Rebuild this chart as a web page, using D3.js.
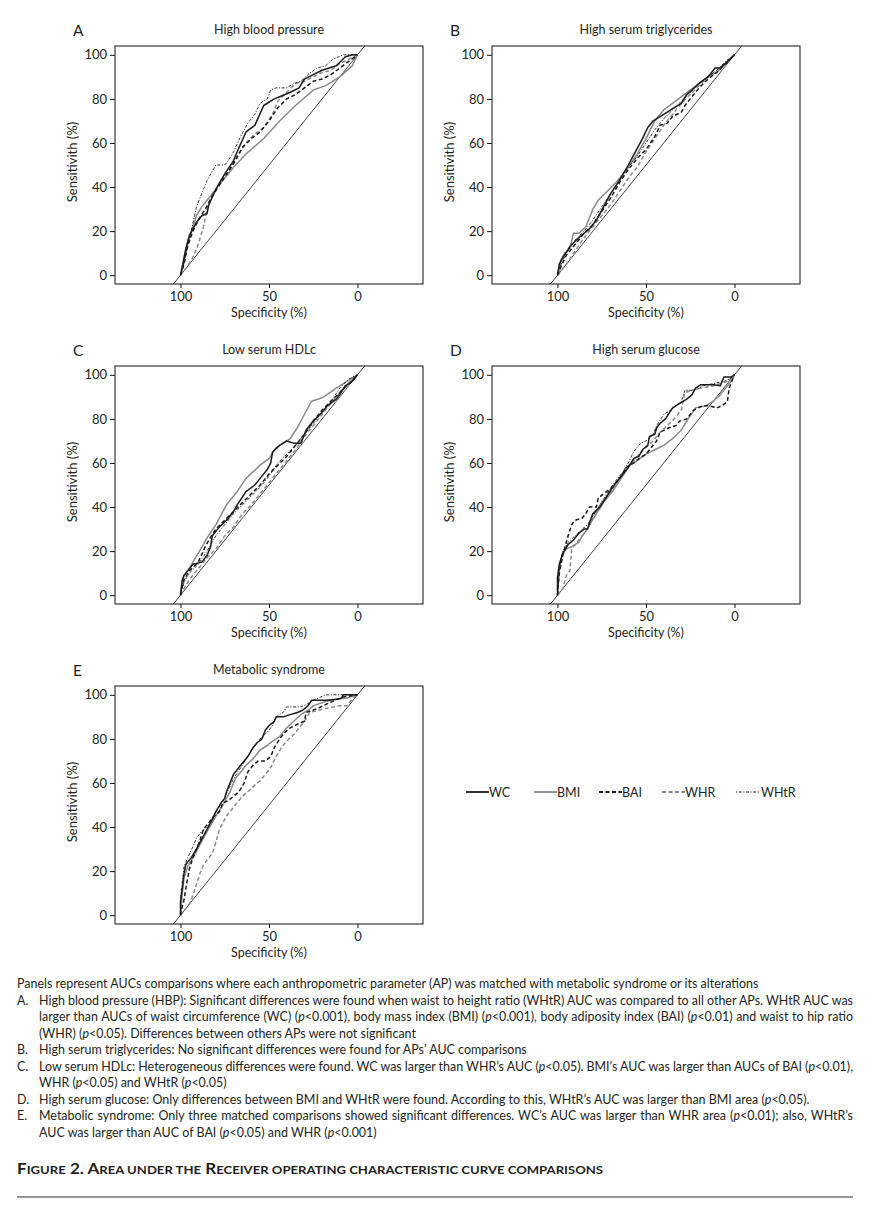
<!DOCTYPE html>
<html>
<head>
<meta charset="utf-8">
<script src="https://cdnjs.cloudflare.com/ajax/libs/d3/7.8.5/d3.min.js"></script>
<style>
    body { margin: 0; background: #fff; }
    svg { display: block; font-family: Lato, "Open Sans", sans-serif; }
</style>
</head>
<body>
<div id="figure"></div>
<script>
// [specificity %, sensitivity %]
const wcA = [[100,0],[99,4],[97,12],[95,18],[93,21],[91,24],[88,27],[85,28],[84,32],[80,39],[75,46],[70,52],[68,56],[63,65],[58,68],[53,77],[47,80],[44,81],[38,83],[33,85],[30,89],[25,91],[20,93],[12,95],[7,99],[3,100],[0,100]];
const bmiA = [[100,0],[98,6],[96,14],[93,22],[91,27],[88,31],[85,34],[78,41],[70,49],[63,55],[53,62],[44,70],[35,77],[25,84],[18,86],[10,90],[3,95],[0,100]];
const baiA = [[100,0],[98,5],[96,13],[93,20],[90,25],[86,30],[82,36],[78,41],[73,47],[69,52],[65,58],[60,62],[55,65],[50,70],[45,76],[40,80],[35,82],[30,85],[25,88],[20,89],[15,91],[10,94],[5,97],[0,100]];
const whrA = [[100,0],[97,3],[93,8],[90,14],[87,22],[85,30],[82,36],[78,41],[72,48],[68,54],[63,60],[58,64],[53,67],[48,73],[45,79],[40,83],[35,87],[30,88],[25,90],[20,92],[15,93],[10,96],[5,98],[0,100]];
const whtrA = [[100,0],[98,6],[96,14],[94,20],[92,27],[91,31],[88,37],[85,43],[80,50],[75,50],[73,52],[70,56],[66,63],[62,69],[58,73],[55,78],[51,80],[49,84],[46,85],[40,85],[36,87],[32,88],[28,91],[23,94],[18,95],[14,98],[8,100],[0,100]];

const wcB = [[100,0],[99,5],[97,8],[93,13],[88,17],[82,21],[78,25],[74,31],[70,37],[65,43],[60,50],[56,56],[52,62],[49,67],[46,70],[42,72],[38,74],[34,76],[30,78],[27,82],[24,84],[20,87],[15,90],[11,94],[8,94],[4,97],[0,100]];
const bmiB = [[100,0],[98,7],[96,10],[93,12],[91,19],[88,19],[84,22],[80,30],[77,34],[72,38],[67,42],[60,49],[55,55],[50,62],[45,70],[40,75],[35,78],[30,81],[25,84],[20,87],[15,90],[10,92],[5,96],[0,100]];
const baiB = [[100,0],[98,4],[95,9],[90,14],[85,19],[80,23],[75,29],[70,35],[65,42],[60,48],[55,53],[50,57],[45,63],[42,68],[38,69],[35,72],[30,74],[28,77],[25,80],[20,85],[15,89],[10,92],[5,96],[0,100]];
const whrB = [[100,0],[98,2],[95,5],[90,11],[85,17],[80,22],[75,27],[70,32],[65,38],[60,44],[55,49],[50,56],[45,62],[40,68],[35,73],[30,78],[25,82],[20,86],[15,90],[10,93],[5,96],[0,100]];
const whtrB = [[100,0],[98,5],[95,10],[90,16],[85,20],[80,25],[75,31],[70,37],[65,43],[60,49],[55,54],[50,60],[45,66],[40,71],[35,75],[30,79],[25,83],[20,87],[15,90],[10,93],[5,97],[0,100]];

const wcC = [[100,0],[99,7],[98,9],[95,12],[93,14],[88,15],[85,18],[83,22],[82,27],[78,31],[74,34],[70,38],[68,41],[63,47],[58,50],[55,53],[51,57],[49,60],[48,65],[44,68],[40,70],[36,69],[32,69],[29,75],[25,79],[20,83],[17,86],[12,89],[10,91],[7,95],[3,97],[0,100]];
const bmiC = [[100,0],[99,6],[98,9],[95,12],[93,15],[90,19],[85,26],[80,32],[74,41],[68,47],[63,53],[55,59],[50,62],[46,67],[42,69],[38,71],[34,76],[30,82],[26,88],[22,89],[19,90],[12,94],[6,97],[0,100]];
const baiC = [[100,0],[98,7],[95,11],[90,15],[86,22],[84,25],[80,30],[75,34],[70,38],[65,42],[60,46],[55,50],[50,55],[45,59],[40,63],[35,68],[30,73],[25,79],[20,84],[15,88],[10,92],[5,96],[0,100]];
const whrC = [[100,0],[98,3],[95,7],[90,12],[85,17],[80,21],[75,27],[70,31],[65,37],[60,41],[55,46],[50,51],[45,56],[40,61],[35,66],[30,72],[25,77],[20,82],[15,87],[10,92],[5,96],[0,100]];
const whtrC = [[100,0],[98,6],[95,10],[90,14],[85,20],[80,27],[75,32],[70,37],[65,41],[60,45],[55,49],[50,54],[45,60],[40,64],[35,68],[30,73],[25,78],[20,83],[15,88],[10,94],[5,98],[0,100]];

const wcD = [[100,0],[100,8],[99,14],[97,19],[94,23],[91,25],[88,28],[85,30],[83,30],[81,35],[80,37],[76,40],[72,45],[68,50],[63,55],[60,58],[57,62],[54,63],[52,66],[49,68],[48,72],[45,73],[44,76],[42,78],[39,80],[35,85],[31,87],[27,89],[24,91],[22,94],[19,95.5],[12,95.5],[8,95],[6,99],[2,99],[0,100]];
const bmiD = [[100,0],[99,12],[97,19],[95,21],[92,22],[88,24],[86,27],[84,29],[81,33],[78,37],[74,42],[69,47],[64,53],[59,59],[55,61],[50,64],[45,66],[40,68],[35,71],[30,75],[27,79],[22,85],[16,86],[12,88],[8,91],[5,94],[2,97],[0,100]];
const baiD = [[100,0],[99,10],[97,18],[96,21],[94,27],[92,32],[90,34],[86,35],[84,37],[82,40],[78,40],[77,44],[74,46],[69,49],[65,53],[61,58],[57,60],[54,62],[50,64],[46,68],[44,70],[42,74],[37,76],[33,77],[31,79],[27,80],[23,84],[18,86],[15,86],[10,85],[7,86],[4,88],[3,94],[0,100]];
const whrD = [[100,0],[97,3],[95,9],[93,11],[92,21],[90,23],[88,25],[84,29],[80,35],[76,41],[72,45],[67,50],[62,57],[58,60],[54,64],[50,67],[46,70],[42,74],[38,77],[34,80],[30,84],[28,92],[24,93],[19,94],[12,95],[8,96],[4,97],[0,100]];
const whtrD = [[100,0],[99,12],[97,20],[94,24],[90,27],[86,30],[83,32],[80,36],[76,41],[72,46],[68,51],[63,56],[60,60],[57,65],[53,69],[50,70],[46,73],[44,77],[40,82],[36,84],[33,86],[30,88],[28,93],[22,93],[18,95],[12,96],[6,97],[3,98],[0,100]];

const wcE = [[100,0],[100,6],[99,12],[98,19],[97,23],[94,26],[91,30],[89,33],[87,36],[85,39],[83,42],[80,47],[77,51],[75,53],[74,56],[71,62],[70,64],[66,68],[62,72],[59,76],[57,78],[54,80],[52,84],[50,86],[47,88],[46,90],[42,90],[38,91],[34,92],[31,93],[28,95],[26,97.5],[18,97.5],[12,98],[9,98.5],[8,100],[0,100]];
const bmiE = [[100,0],[99,10],[98,17],[96,22],[93,26],[89,32],[85,38],[80,45],[76,50],[72,56],[69,62],[66,65],[63,68],[59,71],[55,75],[51,77],[48,79],[44,81],[40,85],[36,88],[32,91],[28,93],[25,95],[18,97],[12,98],[6,98.5],[0,100]];
const baiE = [[100,0],[99,4],[98,7],[97,12],[95,21],[93,26],[91,30],[89,34],[87,39],[84,42],[81,45],[78,47],[76,51],[73,52],[70,54],[67,56],[64,60],[62,65],[59,68],[56,70],[52,70],[49,72],[47,76],[44,80],[41,83],[38,85],[33,87],[30,88],[29,92],[22,94],[17,96],[8,99],[0,100]];
const whrE = [[100,0],[97,3],[95,5],[93,9],[91,14],[89,19],[87,23],[85,25],[82,28],[80,33],[78,39],[76,42],[74,45],[71,48],[68,51],[65,54],[62,56],[58,59],[55,61],[52,64],[49,67],[46,72],[43,76],[40,79],[36,82],[33,85],[30,88],[27,92],[22,93],[17,94],[10,95],[6,95],[3,98],[0,100]];
const whtrE = [[100,0],[100,8],[99,15],[98,22],[96,26],[93,31],[91,35],[88,38],[85,40],[82,43],[80,47],[76,52],[73,57],[70,62],[66,67],[62,72],[59,76],[55,80],[51,83],[48,86],[46,90],[42,92],[40,94.5],[32,94.5],[28,96],[25,97.5],[18,100],[0,100]];

const panelLetters = ["A", "B", "C", "D", "E"];
const panelTitles = ["High blood pressure", "High serum triglycerides", "Low serum HDLc", "High serum glucose", "Metabolic syndrome"];
const seriesNames = ["WC", "BMI", "BAI", "WHR", "WHtR"];
const xTicks = [100, 50, 0];
const yTicks = [0, 20, 40, 60, 80, 100];

const panelCurves = [
    [wcA, bmiA, baiA, whrA, whtrA],
    [wcB, bmiB, baiB, whrB, whtrB],
    [wcC, bmiC, baiC, whrC, whtrC],
    [wcD, bmiD, baiD, whrD, whtrD],
    [wcE, bmiE, baiE, whrE, whtrE]
];

// justify: line is stretched to the right margin
const captionLines = [
    { label: "", text: "Panels represent AUCs comparisons where each anthropometric parameter (AP) was matched with metabolic syndrome or its alterations", justify: false },
    { label: "A.", text: "High blood pressure (HBP): Significant differences were found when waist to height ratio (WHtR) AUC was compared to all other APs. WHtR AUC was", justify: true },
    { label: "", text: "larger than AUCs of waist circumference (WC) (_p_<0.001), body mass index (BMI) (_p_<0.001), body adiposity index (BAI) (_p_<0.01) and waist to hip ratio", justify: true },
    { label: "", text: "(WHR) (_p_<0.05). Differences between others APs were not significant", justify: false },
    { label: "B.", text: "High serum triglycerides: No significant differences were found for APs\u2019 AUC comparisons", justify: false },
    { label: "C.", text: "Low serum HDLc: Heterogeneous differences were found. WC was larger than WHR\u2019s AUC (_p_<0.05). BMI\u2019s AUC was larger than AUCs of BAI (_p_<0.01),", justify: true },
    { label: "", text: "WHR (_p_<0.05) and WHtR (_p_<0.05)", justify: false },
    { label: "D.", text: "High serum glucose: Only differences between BMI and WHtR were found. According to this, WHtR\u2019s AUC was larger than BMI area (_p_<0.05).", justify: false },
    { label: "E.", text: "Metabolic syndrome: Only three matched comparisons showed significant differences. WC\u2019s AUC was larger than WHR area (_p_<0.01); also, WHtR\u2019s", justify: true },
    { label: "", text: "AUC was larger than AUC of BAI (_p_<0.05) and WHR (_p_<0.001)", justify: false }
];

// [text, isCapital] pieces of the small-caps figure title
const figureTitle = [["F", 1], ["IGURE", 0], [" 2. A", 1], ["REA UNDER THE", 0], [" R", 1], ["ECEIVER OPERATING CHARACTERISTIC CURVE COMPARISONS", 0]];

const seriesStyles = [
    { color: "#1a1a1a", width: 1.5, dash: null },
    { color: "#8a8a8a", width: 1.5, dash: null },
    { color: "#1a1a1a", width: 1.5, dash: "4,2.5" },
    { color: "#8a8a8a", width: 1.5, dash: "4,2.5" },
    { color: "#1a1a1a", width: 0.9, dash: "1.2,1.5,3,1.5" }
];

const W = 880, H = 1212;
const textColor = "#231f20";

const svg = d3.select("#figure").append("svg")
    .attr("width", W)
    .attr("height", H);

// panel boxes: left/right columns and three rows
const colX = [115, 492];
const rowY = [46, 366, 686];
const boxW = 308, boxH = 238;

panelTitles.forEach(function (title, i) {
    const x0 = colX[i % 2], y0 = rowY[Math.floor(i / 2)];
    drawPanel(svg.append("g").attr("transform", "translate(" + x0 + "," + y0 + ")"), i);
});

function drawPanel(g, i) {
    const x = d3.scaleLinear().domain([137, -37]).range([0, boxW]);
    const y = d3.scaleLinear().domain([-4, 104]).range([boxH, 0]);

    // diagonal reference
    g.append("line")
        .attr("x1", x(104)).attr("y1", y(-4))
        .attr("x2", x(-4)).attr("y2", y(104))
        .attr("stroke", "#111")
        .attr("stroke-width", 0.8);

    const line = d3.line()
        .x(d => x(d[0]))
        .y(d => y(d[1]));

    // draw gray ones first so black ones sit on top
    const order = [1, 3, 2, 0, 4];
    order.forEach(function (s) {
        g.append("path")
            .datum(panelCurves[i][s])
            .attr("d", line)
            .attr("fill", "none")
            .attr("stroke", seriesStyles[s].color)
            .attr("stroke-width", seriesStyles[s].width)
            .attr("stroke-dasharray", seriesStyles[s].dash)
            .attr("stroke-linejoin", "round");
    });

    g.append("rect")
        .attr("width", boxW).attr("height", boxH)
        .attr("fill", "none")
        .attr("stroke", "#111")
        .attr("stroke-width", 1);

    const xAxis = g.append("g")
        .attr("transform", "translate(0," + boxH + ")")
        .call(d3.axisBottom(x).tickValues(xTicks).tickSize(4).tickPadding(4));
    const yAxis = g.append("g")
        .call(d3.axisLeft(y).tickValues(yTicks).tickSize(5).tickPadding(3));

    [xAxis, yAxis].forEach(function (a) {
        a.attr("font-size", 13).attr("font-family", "Lato, sans-serif");
        a.select(".domain").remove();
        a.selectAll("line").attr("stroke", "#111");
        a.selectAll("text").attr("fill", textColor);
    });

    g.append("text")
        .attr("x", -42).attr("y", -10)
        .attr("fill", textColor)
        .style("font-size", "15.5px")
        .text(panelLetters[i]);

    g.append("text")
        .attr("x", boxW / 2).attr("y", -12)
        .attr("text-anchor", "middle")
        .attr("fill", textColor)
        .style("font-size", "12.5px")
        .text(panelTitles[i]);

    g.append("text")
        .attr("x", x(50)).attr("y", boxH + 33)
        .attr("text-anchor", "middle")
        .attr("fill", textColor)
        .style("font-size", "12.5px")
        .text("Specificity (%)");

    g.append("text")
        .attr("transform", "translate(-38," + (boxH / 2 - 3) + ") rotate(-90)")
        .attr("text-anchor", "middle")
        .attr("fill", textColor)
        .style("font-size", "13px")
        .text("Sensitivith (%)");
}

// legend
const legendX = [466, 534, 599, 662, 736];
const legend = svg.append("g").attr("transform", "translate(0,792)");
seriesNames.forEach(function (name, s) {
    legend.append("line")
        .attr("x1", legendX[s]).attr("x2", legendX[s] + 23)
        .attr("y1", 0).attr("y2", 0)
        .attr("stroke", seriesStyles[s].color)
        .attr("stroke-width", seriesStyles[s].width + 0.3)
        .attr("stroke-dasharray", seriesStyles[s].dash);
    legend.append("text")
        .attr("x", legendX[s] + 23 + (s == 4 ? 2 : 0)).attr("y", 4.5)
        .attr("fill", textColor)
        .style("font-size", "12.5px")
        .text(name);
});

// caption: first line sets the font scale, full lines are justified with word spacing
const caption = svg.append("g").attr("fill", textColor);
const rightMargin = 853;

function captionText(c, k, fontSize) {
    const yy = 988 + k * 16.5;
    const startX = (c.label || k == 1 || k == 4 || k == 5 || k == 7 || k == 8) ? 39 : (k == 0 ? 17 : 39);
    const t = caption.append("text")
        .attr("x", startX).attr("y", yy)
        .style("font-size", fontSize + "px");
    c.text.split("_").forEach(function (part, j) {
        if (!part) return;
        t.append("tspan")
            .style("font-style", j % 2 ? "italic" : "normal")
            .text(part);
    });
    return { node: t, startX: startX, y: yy };
}

const probe = captionText(captionLines[0], 0, 12);
const scale = (759 - 17) / probe.node.node().getComputedTextLength();
probe.node.remove();
const capSize = 12 * scale;

captionLines.forEach(function (c, k) {
    const r = captionText(c, k, capSize);
    if (c.label) {
        caption.append("text").attr("x", 17).attr("y", r.y)
            .style("font-size", capSize + "px").text(c.label);
    }
    if (c.justify) {
        const natural = r.node.node().getComputedTextLength();
        const spaces = (c.text.match(/ /g) || []).length;
        r.node.attr("word-spacing", (rightMargin - r.startX - natural) / spaces);
    }
});

const ft = svg.append("text")
    .attr("x", 17).attr("y", 1174)
    .attr("fill", textColor)
    .style("font-weight", "bold")
    .attr("textLength", 603 - 17)
    .attr("lengthAdjust", "spacingAndGlyphs");
figureTitle.forEach(function (p) {
    ft.append("tspan")
        .style("font-size", p[1] ? "15px" : "11.5px")
        .text(p[0]);
});

svg.append("line")
    .attr("x1", 17).attr("x2", 853)
    .attr("y1", 1197).attr("y2", 1197)
    .attr("stroke", "#333")
    .attr("stroke-width", 1);
</script>
</body>
</html>
